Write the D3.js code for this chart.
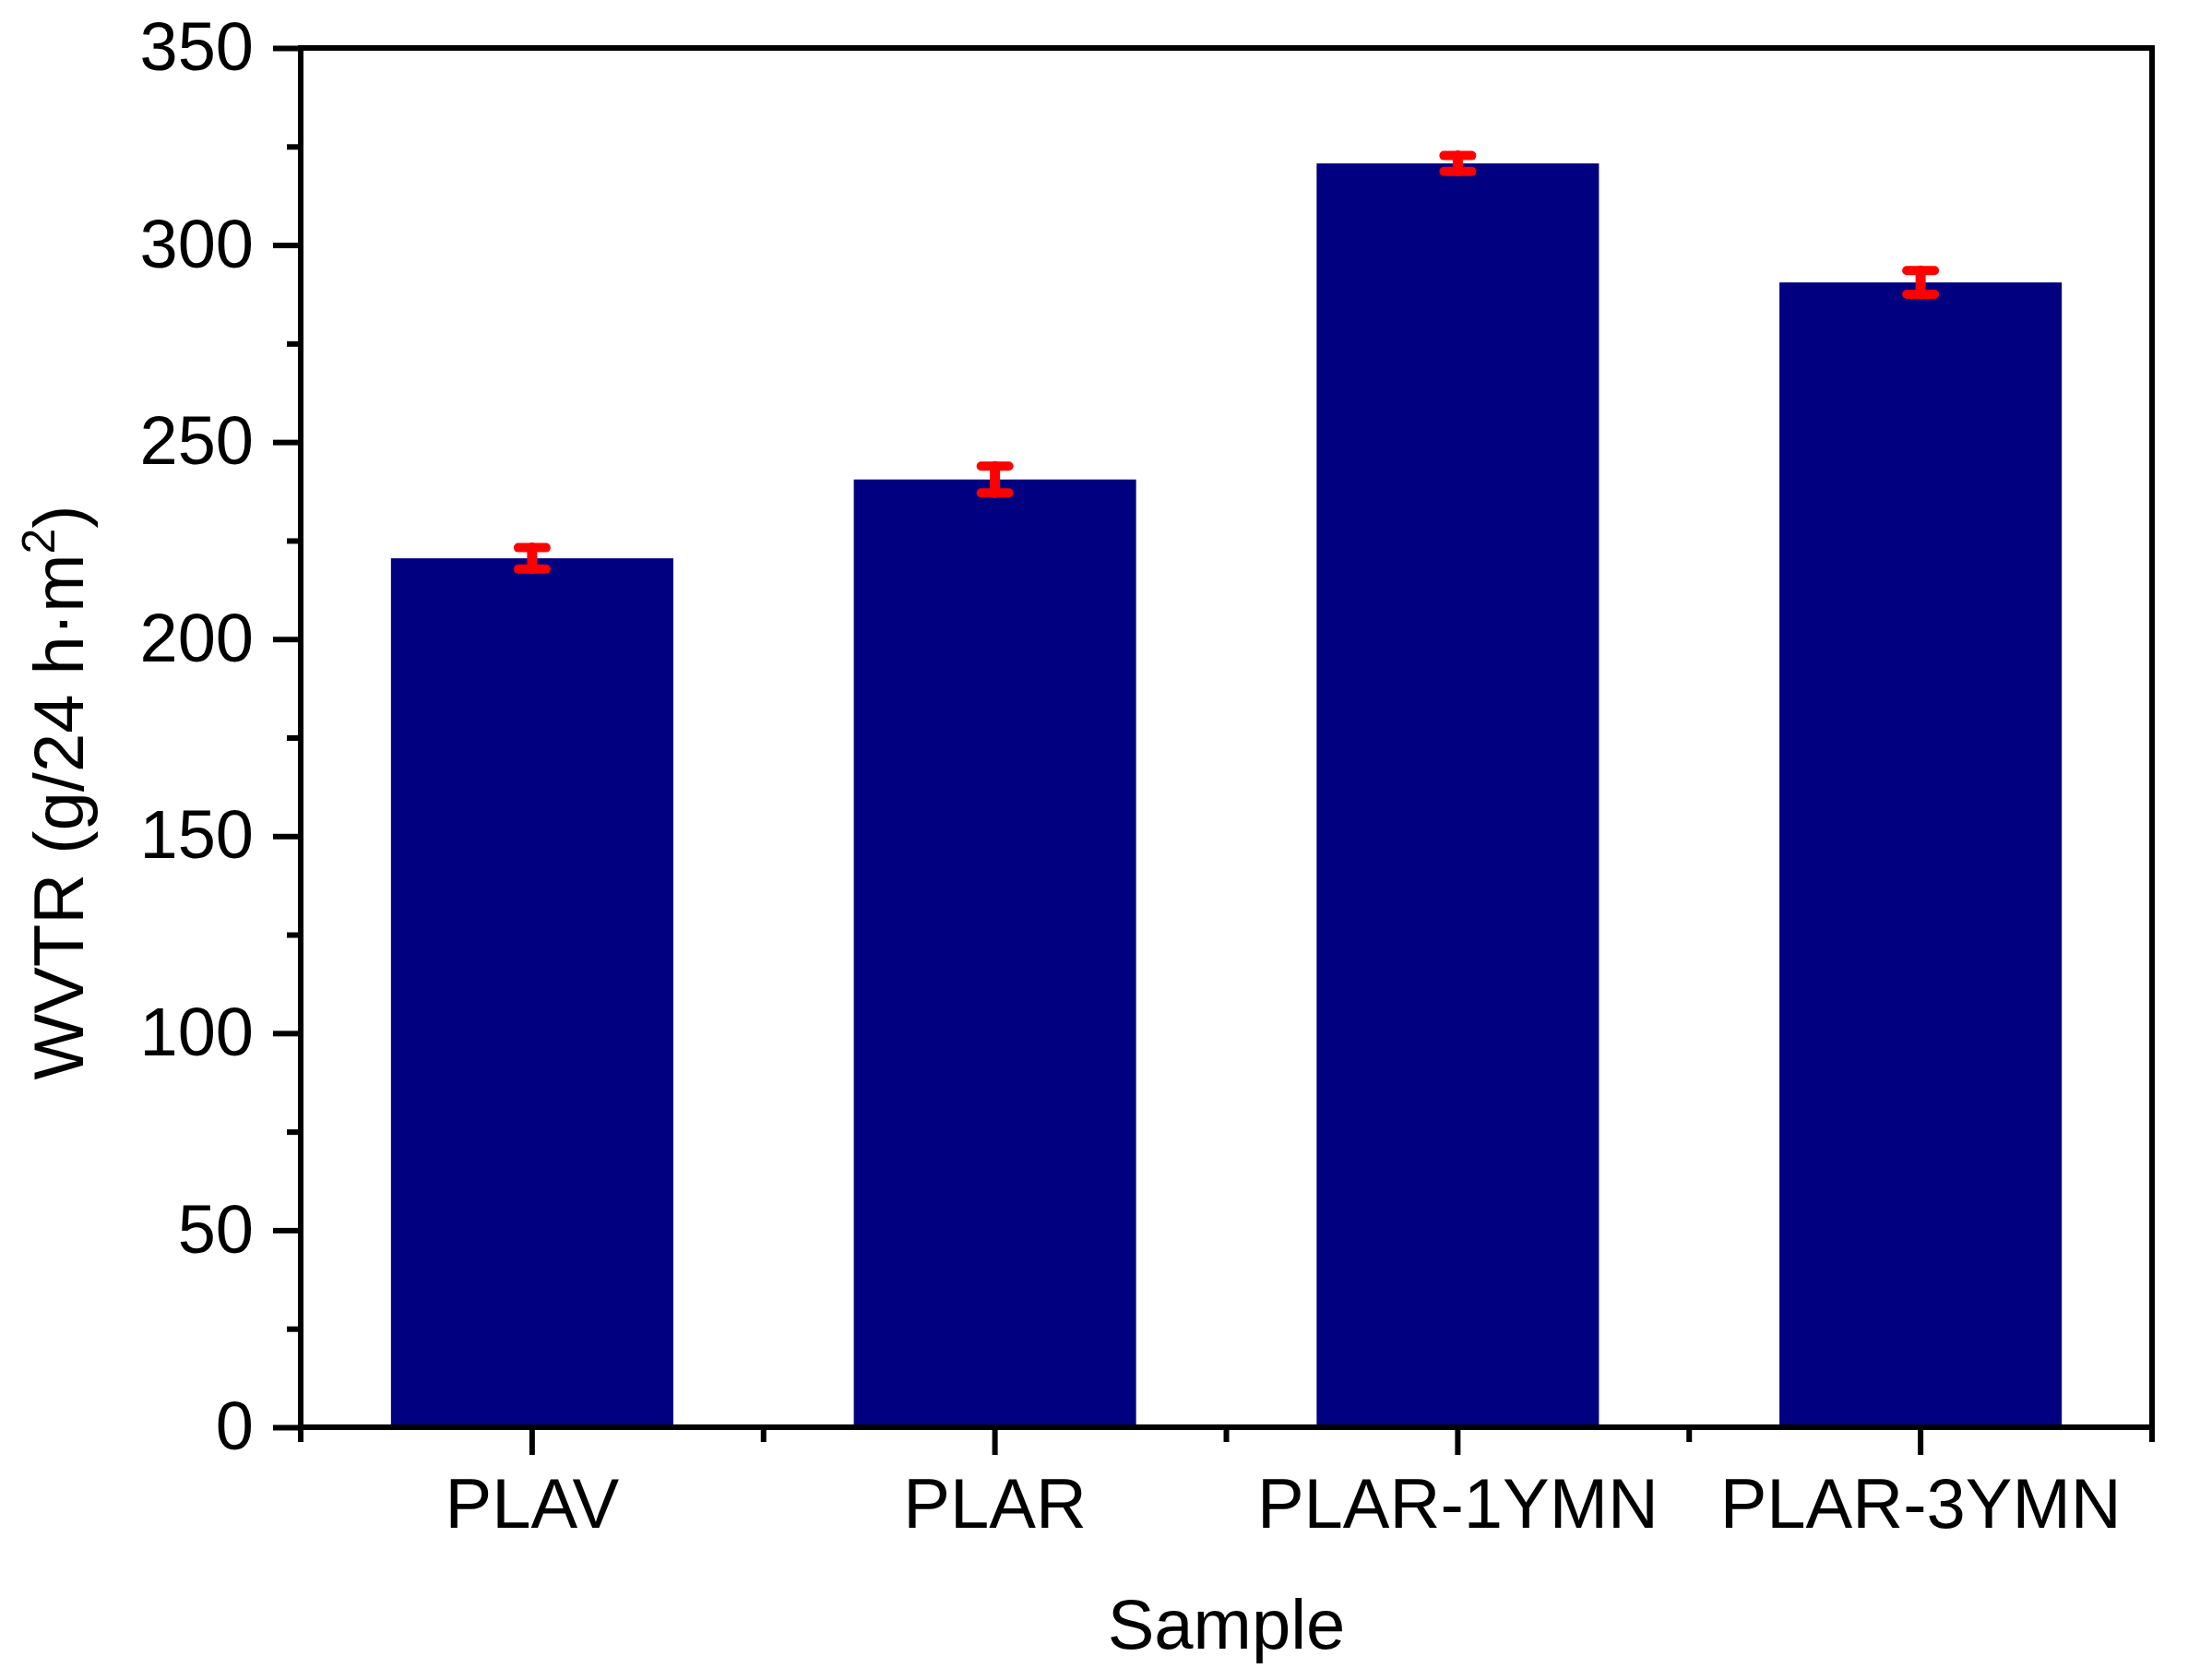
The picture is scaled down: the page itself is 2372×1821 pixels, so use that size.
<!DOCTYPE html>
<html>
<head>
<meta charset="utf-8">
<script src="https://cdn.jsdelivr.net/npm/d3@7"></script>
<style>
  body { margin: 0; background: #fff; }
  text { font-family: "Liberation Sans", Arial, sans-serif; fill: #000; }
</style>
</head>
<body>
<div id="chart"></div>
<script>
// Data
const samples   = ["PLAV", "PLAR", "PLAR-1YMN", "PLAR-3YMN"];
const wvtr      = [220.5, 240.5, 320.7, 290.5];
const wvtrError = [2.7, 3.4, 2.0, 3.0];
const yTicks    = [0, 50, 100, 150, 200, 250, 300, 350];
const yMinor    = [25, 75, 125, 175, 225, 275, 325];

// Sizes
const width  = 2372;
const height = 1821;
const margin = { top: 52, right: 39, bottom: 274, left: 326 };

const bar_color   = '#000080';
const error_color = '#ff0000';
const axis_width  = 6;

const svg = d3.select("#chart")
  .append("svg")
  .attr("width", width)
  .attr("height", height);

const x = d3.scaleBand()
  .domain(samples)
  .range([margin.left, width - margin.right])
  .paddingInner(0.39)
  .paddingOuter(0.195);

const y = d3.scaleLinear()
  .domain([0, 350])
  .range([height - margin.bottom, margin.top]);

const rows = samples.map((s, i) => ({ name: s, value: wvtr[i], err: wvtrError[i] }));

// Bars
svg.append("g").selectAll("rect")
  .data(rows)
  .enter().append("rect")
  .attr("x", d => x(d.name))
  .attr("y", d => y(d.value))
  .attr("width", x.bandwidth())
  .attr("height", d => y(0) - y(d.value))
  .attr("fill", bar_color);

// Error bars
const errG = svg.append("g")
  .attr("stroke", error_color)
  .attr("stroke-linecap", "round");

const cx = d => x(d.name) + x.bandwidth() / 2;

errG.selectAll("line.stem")
  .data(rows)
  .enter().append("line")
  .attr("class", "stem")
  .attr("stroke-width", 11)
  .attr("x1", cx).attr("x2", cx)
  .attr("y1", d => y(d.value - d.err))
  .attr("y2", d => y(d.value + d.err));

[-1, 1].forEach(sign => {
  errG.selectAll("line.cap" + (sign > 0 ? "t" : "b"))
    .data(rows)
    .enter().append("line")
    .attr("stroke-width", 10)
    .attr("x1", d => cx(d) - 15)
    .attr("x2", d => cx(d) + 15)
    .attr("y1", d => y(d.value + sign * d.err))
    .attr("y2", d => y(d.value + sign * d.err));
});

// Y axis: major and minor ticks
const yAxis = svg.append("g")
  .attr("transform", `translate(${margin.left},0)`)
  .call(d3.axisLeft(y).tickValues(yTicks).tickSize(30).tickPadding(21).tickFormat(d3.format("d")));

svg.append("g")
  .attr("transform", `translate(${margin.left},0)`)
  .call(d3.axisLeft(y).tickValues(yMinor).tickSize(15).tickFormat(""));

// X axis: major ticks at centers, minor at band boundaries
const xAxis = svg.append("g")
  .attr("transform", `translate(0,${y(0)})`)
  .call(d3.axisBottom(x).tickSize(30).tickPadding(25));

const boundaries = d3.range(samples.length + 1).map(i => x.range()[0] + i * x.step());
svg.append("g").selectAll("line")
  .data(boundaries)
  .enter().append("line")
  .attr("x1", d => d).attr("x2", d => d)
  .attr("y1", y(0)).attr("y2", y(0) + 16)
  .attr("stroke", "#000")
  .attr("stroke-width", axis_width);

svg.selectAll(".domain").remove();
svg.selectAll(".tick line").attr("stroke", "#000").attr("stroke-width", axis_width);
yAxis.selectAll(".tick text").style("font-size", "74px");
xAxis.selectAll(".tick text").style("font-size", "76px");

// Frame
svg.append("rect")
  .attr("x", margin.left)
  .attr("y", margin.top)
  .attr("width", width - margin.right - margin.left)
  .attr("height", y(0) - margin.top)
  .attr("fill", "none")
  .attr("stroke", "#000")
  .attr("stroke-width", axis_width);

// Axis titles
svg.append("text")
  .attr("x", (margin.left + width - margin.right) / 2)
  .attr("y", 1787)
  .attr("text-anchor", "middle")
  .style("font-size", "76px")
  .text("Sample");

const yTitle = svg.append("text")
  .attr("transform", "translate(90,859) rotate(-90)")
  .attr("text-anchor", "middle")
  .style("font-size", "76px");
yTitle.append("tspan").text("WVTR (g/24 h\u00b7m");
yTitle.append("tspan").attr("dy", "-0.62em").style("font-size", "50px").text("2");
yTitle.append("tspan").attr("dy", "0.41em").text(")");
</script>
</body>
</html>
